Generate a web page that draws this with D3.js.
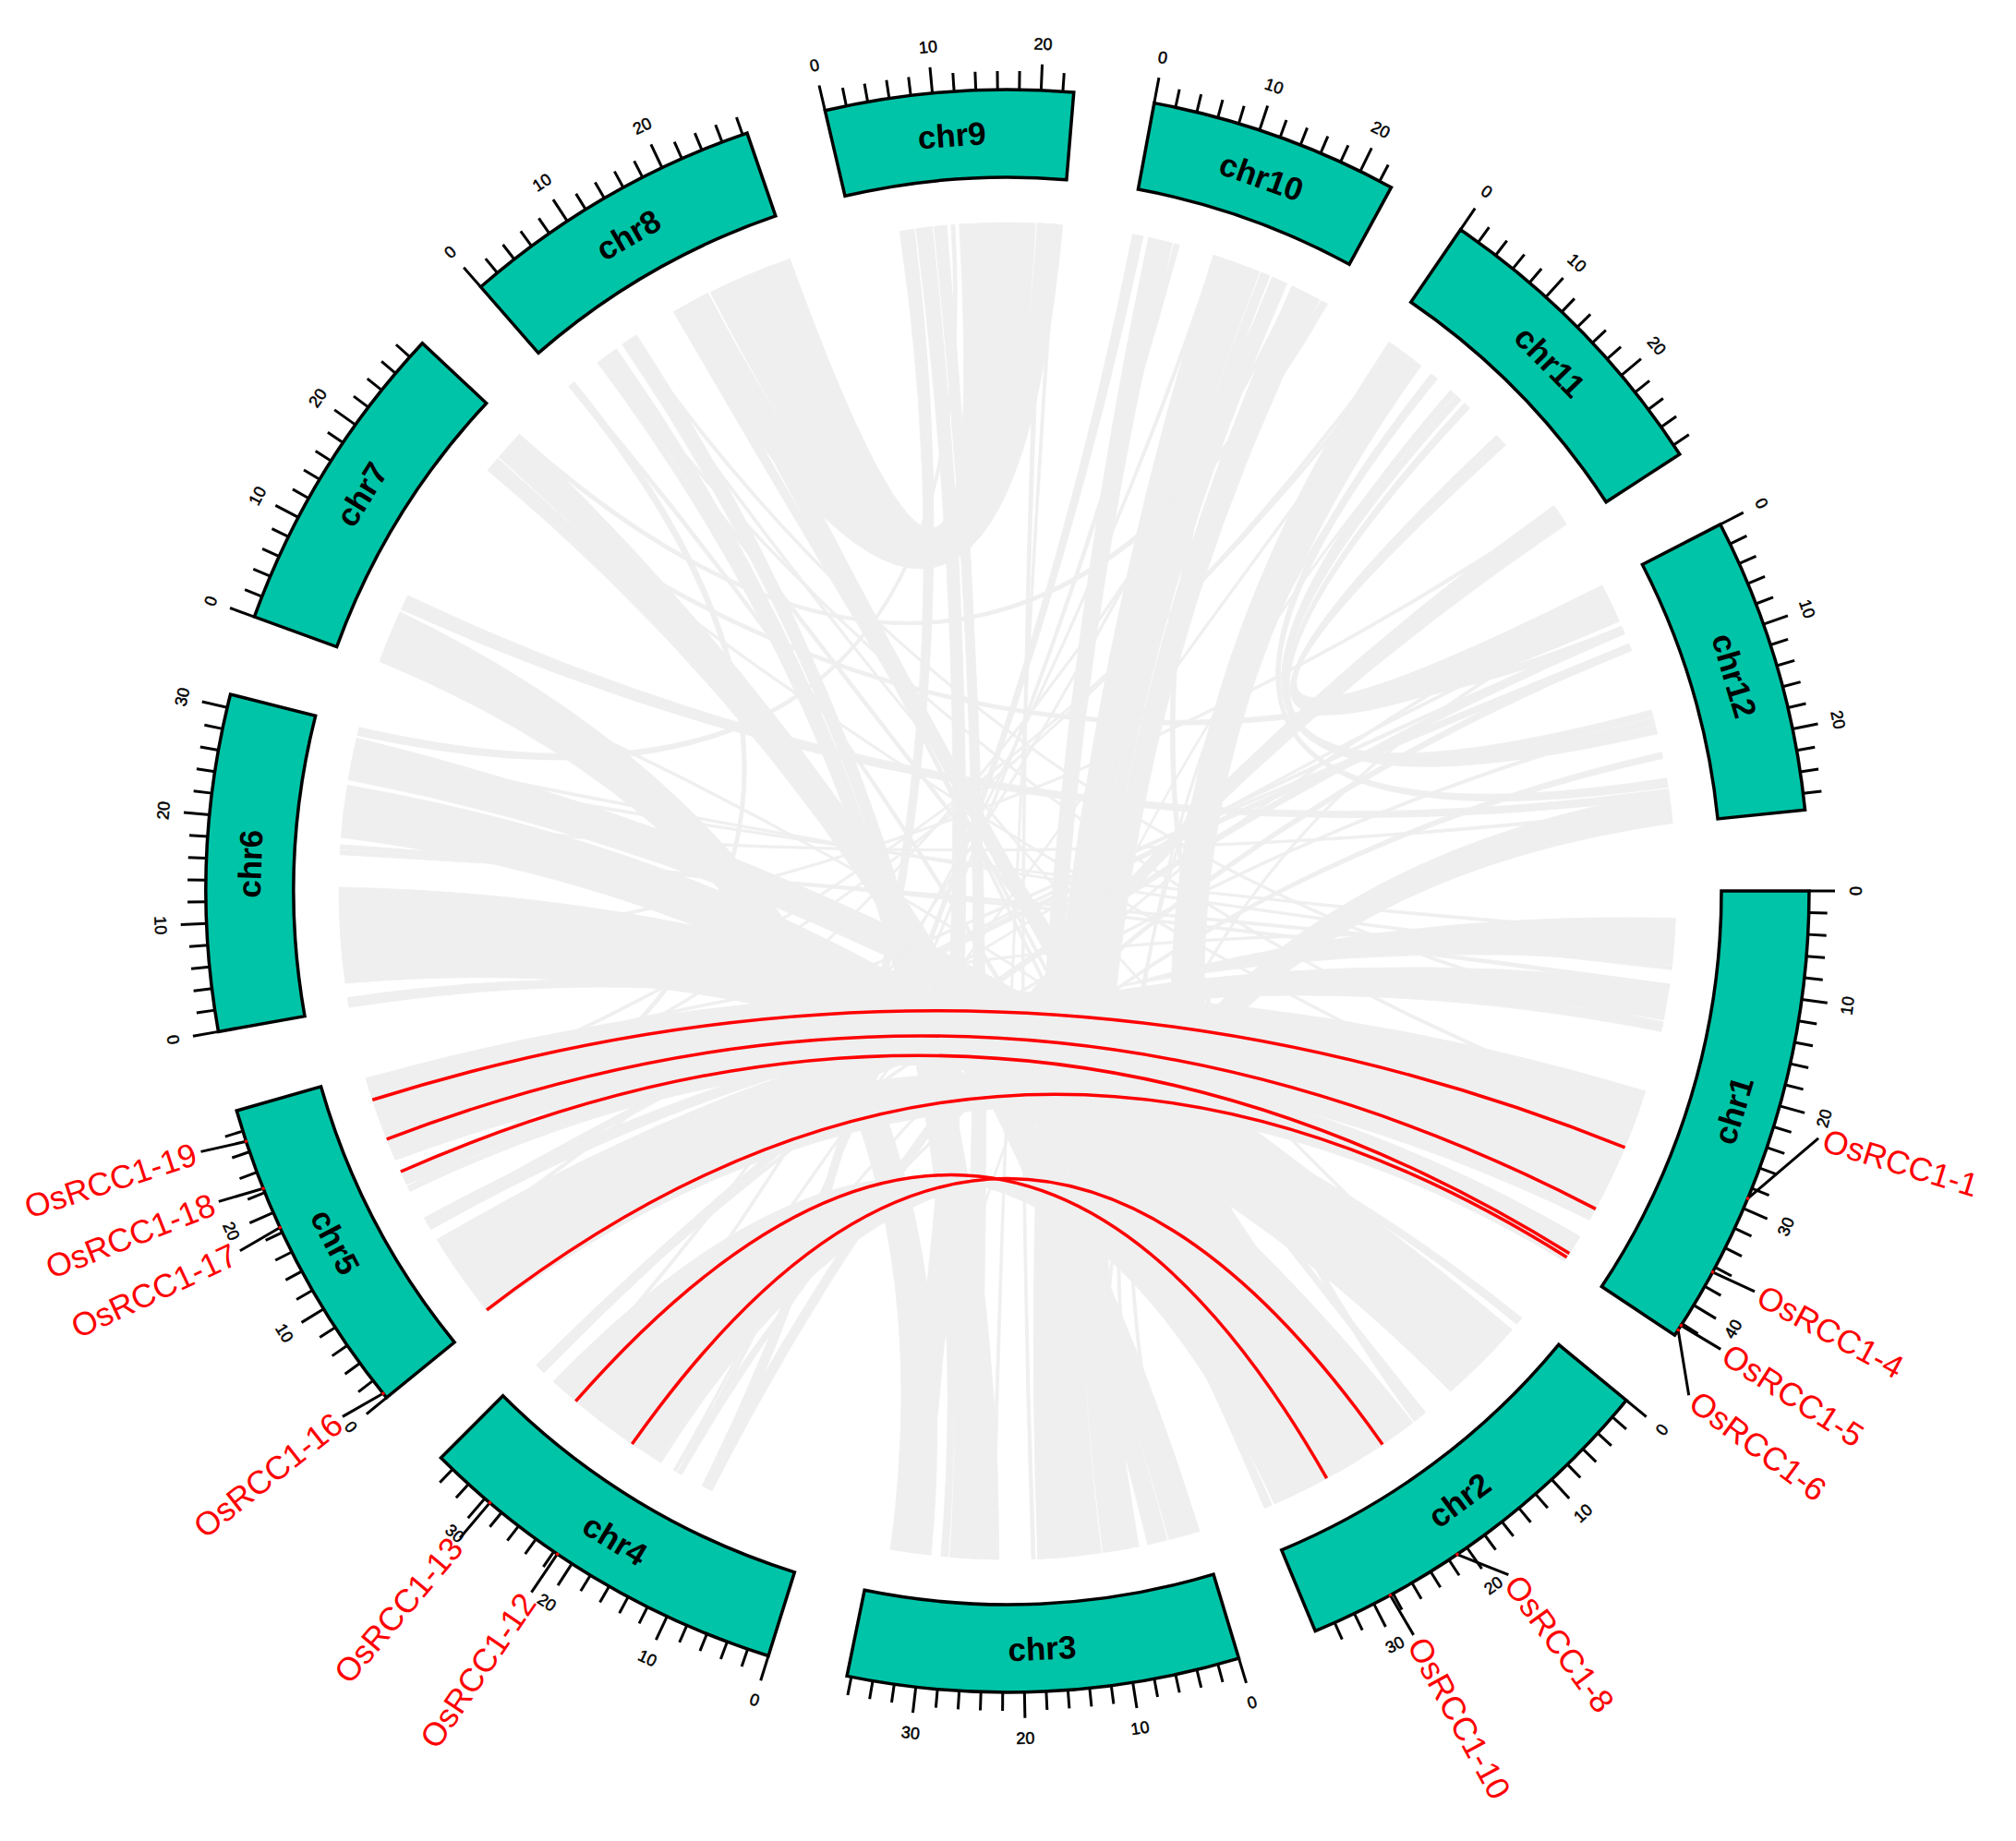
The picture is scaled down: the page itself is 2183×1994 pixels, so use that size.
<!DOCTYPE html>
<html><head><meta charset="utf-8">
<script src="https://cdn.jsdelivr.net/npm/d3@7/dist/d3.min.js"></script>
<style>html,body{margin:0;padding:0;background:#fff}svg{display:block}text{font-family:"Liberation Sans",Arial,sans-serif}</style>
</head><body><svg id="c" width="2183" height="1994"></svg>
<script>
// Chromosome lengths in Mb
const chromosomes = ["chr1","chr2","chr3","chr4","chr5","chr6","chr7","chr8","chr9","chr10","chr11","chr12"];
const chrLengths = [43.27,35.94,36.41,35.5,29.96,31.25,29.7,28.44,23.01,23.21,29.02,27.53];

// Syntenic blocks: chrA, a0, a1, chrB, b0, b1 (a0 joins b0, a1 joins b1)
const grayLinks = [
 [8,18.9,28.4,9,20,11.6],[8,14.3,18.6,9,23,20.2],[8,16.1,18.6,2,27,24],[8,14.3,15.5,2,22,20.5],
 [1,22.4,37.9,5,29.5,19.9],[1,40,43.2,5,18.7,16.9],[1,42.5,43.2,5,16.7,16.1],
 [1,40,43.2,5,10,0.3],[1,3,8.1,5,0.3,8],[1,10.3,14.3,5,10,8],[1,14.5,15.6,5,12.8,11.3],
 [6,2.8,13.4,2,11.6,2],[6,25.3,30,2,8,2],[6,18.9,24.7,2,27,17],[6,0.1,1.2,2,1.2,0.3],
 [6,17,17.5,1,8.7,8.2],[6,17.6,18.1,1,10.8,10.3],[6,30.3,31.2,9,11.1,10.7],
 [7,0.1,6,3,34.5,30],[7,6.3,8,12,24.6,23.7],[7,24.4,26.1,3,6,3.8],[7,26.3,29.7,3,3.6,0.1],
 [3,7,11,10,22.2,18.8],[3,11.2,13.5,10,18.2,16.4],[3,13.7,15,10,16.1,15.1],[3,15.2,18.2,10,14.9,9.5],
 [12,24,27.5,3,18.2,13],[3,22.5,25,8,9.5,7.6],[3,25.2,27.9,8,6.8,5.1],[3,28.1,28.9,8,4.9,4.2],
 [3,18.5,18.9,9,21,20.4],[10,2.1,4.8,3,18.2,15],[11,0.5,4.9,2,34.7,28],
 [4,17.8,32.7,2,17,34.7],[11,16.2,17.7,12,4.4,0],[11,11.2,12,12,15.6,14.8],
 [11,9.9,10.7,12,16.5,15.7],[11,9.1,9.8,12,17.5,16.6],[11,6.3,7.2,12,23.5,22.5],
 [11,26.2,28.7,4,12.6,11.4],[12,5,5.9,4,35.3,34.1],[12,7.1,7.9,4,15.7,15.2],[12,19.6,20.3,4,16.2,15.9],
 [9,6.8,8.6,3,34.5,31],[9,8.8,10.2,3,27.9,25],[9,5,6.6,4,12.6,11.4],
 [10,0.3,1.5,4,15.7,15.2],[10,5,5.6,4,16.2,15.9],[7,29.2,29.7,10,23.2,22.4],[7,24.4,24.9,12,5.9,5],
 [8,0.1,0.9,5,16.7,16.1],[8,0.2,0.7,2,35.9,35],[2,15.2,16,8,5,4.4],[2,16.1,16.8,10,16,15.2],
 [5,11.5,12.5,12,7.9,7.1],[10,15.1,16.1,3,9,8],
 [12,5.2,5.7,5,12.3,11.8],[12,7.2,7.7,5,17.5,17],[12,15.9,16.3,4,34.8,34.3],[9,22,22.4,3,23.4,23],
 [8,16.2,16.8,2,30,29.4],[8,17.2,17.8,2,33,32.4],[11,6.5,6.9,3,6,5.6],[11,9.3,9.6,3,34,33.7],
 [10,19,19.4,5,9,8.6],[12,1,1.4,4,19,18.6],[12,3,3.4,5,3,2.6],[11,1,1.4,5,21,20.6],
 [8,5,5.4,1,25,24.6],[8,7.8,8.2,2,4,3.6],[8,8.6,9,1,15,14.6],[7,25,25.4,1,30,29.6],[7,2,2.4,2,3,2.6],
 [6,27,27.4,1,5,4.6],[6,21,21.4,12,26,25.6],[6,28.5,28.9,1,8,7.6],[5,28,28.4,1,6,5.6],
 [6,5,5.4,11,27,26.6],[5,25,25.4,11,2,1.6],[4,22,22.4,11,3,2.6],[4,26,26.4,10,10,9.6],[4,31,31.4,10,17,16.6],
 [3,3,3.4,11,4,3.6],[3,9,9.4,12,3,2.6]
];
const geneChr = [1,1,1,1,2,2,4,4,5,5,5,5];
const genePos = [29,36.5,42.2,42.7,21.1,28.3,21.6,29.4,0.5,18.5,22.4,27];
const geneNames = ["OsRCC1-1","OsRCC1-4","OsRCC1-5","OsRCC1-6","OsRCC1-8","OsRCC1-10","OsRCC1-12","OsRCC1-13","OsRCC1-16","OsRCC1-17","OsRCC1-18","OsRCC1-19"];
// Red links: index pairs into the gene arrays
const redPairs = [[0,11],[1,10],[2,9],[3,8],[4,6],[5,7]];

// Layout
const W=2183,H=1994,cx=1091,cy=965,R=868,Ri=773,Rl=724,gapDeg=5.8,ctrlK=0.04,bulge=0.011;
const labelShift=[-5.6,-0.2,-0.1,3.3,-2.1,-0.1,0,0,0.5,-0.3,0.3,0.3];
const rad=d=>d*Math.PI/180;
const degPerMb=(360-12*gapDeg)/d3.sum(chrLengths);
let acc=0;
const chrScales=chrLengths.map(L=>{const s=d3.scaleLinear().domain([0,L]).range([acc,acc+L*degPerMb]);acc+=L*degPerMb+gapDeg;return s;});
const ang=(c,p)=>chrScales[c-1](p);
const pt=(deg,r)=>[r*Math.cos(rad(deg)),r*Math.sin(rad(deg))];
const tangentRot=t=>(Math.sin(rad(t))>0?t-90:t+90);
const sep=(a,b)=>{const d=Math.abs(a-b)%360;return d>180?360-d:d;};

const svg=d3.select("#c");
svg.append("rect").attr("width",W).attr("height",H).attr("fill","#fff");
const g=svg.append("g").attr("transform",`translate(${cx},${cy})`);

function quadTo(p,a,b,extra){
  const A=pt(a,Rl),B=pt(b,Rl),mx=(A[0]+B[0])/2,my=(A[1]+B[1])/2,n=Math.hypot(mx,my)||1,e=(extra||0);
  p.quadraticCurveTo(mx*ctrlK+mx/n*e,my*ctrlK+my/n*e,B[0],B[1]);
}
function ribbon(l){
  const a0=ang(l[0],l[1]),a1=ang(l[0],l[2]),b0=ang(l[3],l[4]),b1=ang(l[3],l[5]);
  const s0=sep(a0,b0),s1=sep(a1,b1),wa=Math.abs(a1-a0),wb=Math.abs(b1-b0);
  const nested=Math.min(1,Math.abs(s0-s1)/(wa+wb));
  const ex=bulge*Rl*(wa+wb)/2*nested*Math.cos(rad(Math.min(s0,s1)/2));
  const p=d3.path(),s=pt(a0,Rl);
  p.moveTo(s[0],s[1]);
  p.arc(0,0,Rl,rad(a0),rad(a1),a1<a0);
  quadTo(p,a1,b1,s1<s0?ex:0);
  p.arc(0,0,Rl,rad(b1),rad(b0),b0<b1);
  quadTo(p,b0,a0,s0<s1?ex:0);
  p.closePath();
  return p.toString();
}
g.append("g").selectAll("path").data(grayLinks).join("path").attr("d",ribbon)
 .attr("fill","#efefef").attr("stroke","#efefef").attr("stroke-width",0.8).attr("stroke-linejoin","round");

g.append("g").selectAll("path").data(redPairs).join("path")
 .attr("d",d=>{
   const a=ang(geneChr[d[0]],genePos[d[0]]),b=ang(geneChr[d[1]],genePos[d[1]]);
   const p=d3.path(),s=pt(a,Rl);p.moveTo(s[0],s[1]);quadTo(p,a,b,0);return p.toString();
 }).attr("fill","none").attr("stroke","#ff0000").attr("stroke-width",3.5);

// Sectors
const arc=d3.arc().innerRadius(Ri).outerRadius(R);
const sectors=g.append("g").selectAll("g").data(chromosomes).join("g");
sectors.append("path").attr("d",(d,i)=>{
   const [a,b]=chrScales[i].range();
   return arc({startAngle:rad(a+90),endAngle:rad(b+90)});
 }).attr("fill","#00c4a7").attr("stroke","#000").attr("stroke-width",3.5).attr("stroke-linejoin","miter");
sectors.append("text").text(d=>d)
 .attr("transform",(d,i)=>{const t=d3.mean(chrScales[i].range()),q=pt(t,821);return `translate(${q[0]},${q[1]}) rotate(${tangentRot(t)})`;})
 .attr("text-anchor","middle").attr("dominant-baseline","central")
 .attr("font-size",35).attr("font-weight","bold").attr("fill","#000");

// Ticks
chrScales.forEach((s,i)=>{
  const vals=d3.range(0,chrLengths[i],2);
  const t=g.append("g").selectAll("g").data(vals).join("g");
  t.append("line")
   .attr("x1",v=>pt(s(v),R)[0]).attr("y1",v=>pt(s(v),R)[1])
   .attr("x2",v=>pt(s(v),R+(v%10===0?28:20))[0]).attr("y2",v=>pt(s(v),R+(v%10===0?28:20))[1])
   .attr("stroke","#000").attr("stroke-width",3);
  t.filter(v=>v%10===0).append("text").text(v=>v)
   .attr("transform",v=>{const q=pt(s(v),918);return `translate(${q[0]},${q[1]}) rotate(${tangentRot(s(v))})`;})
   .attr("text-anchor","middle").attr("dominant-baseline","central")
   .attr("font-size",18).attr("fill","#000").attr("stroke","#000").attr("stroke-width",0.5);
});

// Gene labels
geneNames.forEach((n,i)=>{
  const a=ang(geneChr[i],genePos[i]),e=a+labelShift[i];
  const A=pt(a,R),B=pt(e,R+50),T=pt(e,R+56);
  g.append("line").attr("x1",A[0]).attr("y1",A[1]).attr("x2",B[0]).attr("y2",B[1]).attr("stroke","#000").attr("stroke-width",3);
  g.append("circle").attr("cx",A[0]).attr("cy",A[1]).attr("r",1.8).attr("fill","#ff0000");
  const left=Math.cos(rad(e))<0;
  g.append("text").text(n).attr("transform",`translate(${T[0]},${T[1]}) rotate(${left?e-180:e})`)
   .attr("text-anchor",left?"end":"start").attr("dominant-baseline","central")
   .attr("font-size",35.5).attr("fill","#ff0000");
});
</script></body></html>
